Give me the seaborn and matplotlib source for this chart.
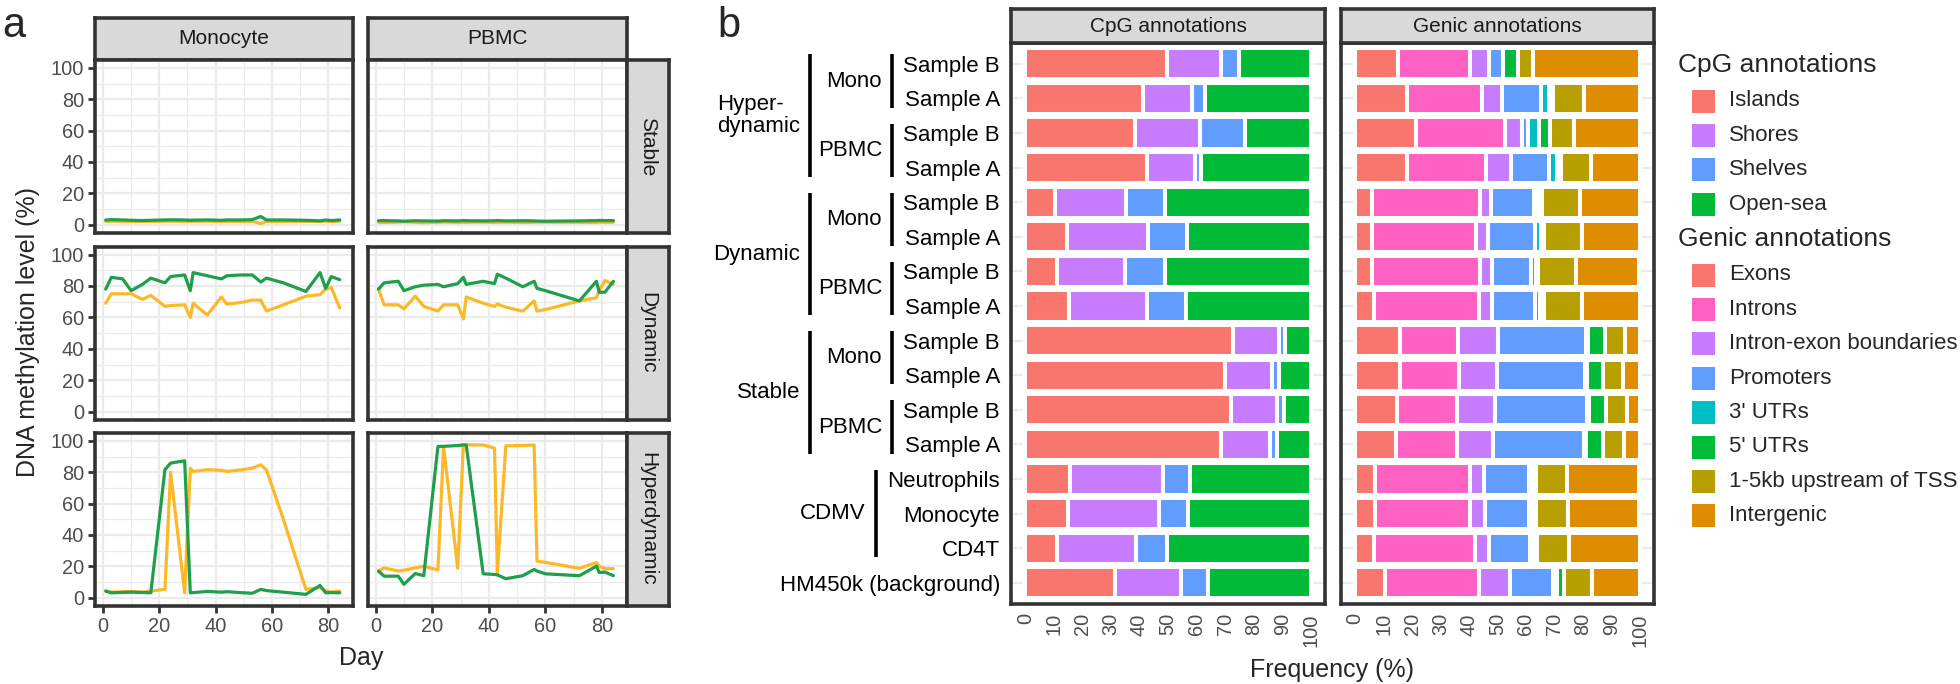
"""Methylation trajectories over time (a) and annotation composition of CpG sets (b)."""

from itertools import groupby

import matplotlib

matplotlib.use("Agg")
import matplotlib.pyplot as plt
import matplotlib.transforms as mtransforms
import pandas as pd
import seaborn as sns
from matplotlib.patches import Rectangle

W, H, DPI = 1960, 684, 100

# ---------------------------------------------------------------- panel a data
MONO_DAYS = [1, 3, 7, 10, 14, 17, 22, 24, 29, 31, 32, 37, 42, 44, 49, 53, 56, 58, 64, 72, 77, 79, 81, 84]
PBMC_DAYS = [1, 3, 8, 10, 14, 17, 22, 24, 29, 31, 32, 38, 42, 43, 46, 52, 56, 57, 60, 72, 78, 79, 81, 84]

MONO_STABLE_A = [3.0, 3.2, 3.0, 2.8, 2.6, 2.8, 3.0, 3.1, 3.0, 2.8, 2.9, 3.0, 2.8, 3.0, 3.0, 3.2, 5.2, 3.0, 3.0, 2.8, 2.4, 3.0, 2.6, 3.0]
MONO_STABLE_B = [2.0, 2.2, 2.0, 2.0, 2.1, 2.0, 2.2, 2.2, 2.0, 2.0, 2.1, 2.2, 2.0, 2.1, 2.0, 2.0, 0.8, 2.0, 2.0, 2.1, 2.0, 2.2, 2.0, 2.2]
MONO_DYNAMIC_A = [78, 85.5, 84.5, 77, 81, 85, 82, 86, 87, 77, 88.5, 86.5, 84.5, 86.5, 87, 87, 82.5, 85, 82, 76.5, 88.5, 78.5, 86, 84]
MONO_DYNAMIC_B = [69, 75, 75, 75, 71.5, 74, 67, 67.5, 68, 60, 69, 61.5, 73, 68.5, 69.5, 71, 71, 64, 68, 73.5, 74.5, 78, 79, 66]
MONO_HYPER_A = [4.2, 3.1, 3.3, 3.5, 3.3, 3.1, 81.6, 85.8, 87.3, 3.1, 3.2, 4.0, 3.5, 3.8, 3.2, 2.8, 5.3, 4.5, 3.5, 2.1, 7.8, 3.1, 3.2, 3.1]
MONO_HYPER_B = [4.2, 3.5, 3.8, 4.0, 3.5, 4.2, 5.3, 79.9, 3.1, 82.6, 80.5, 81.6, 81.2, 80.5, 81.5, 82.6, 84.7, 81.5, 50.0, 5.3, 6.4, 4.5, 3.5, 4.2]

PBMC_STABLE_A = [2.5, 2.6, 2.4, 2.2, 2.5, 2.4, 2.3, 2.5, 2.4, 2.6, 2.5, 2.4, 2.5, 2.6, 2.4, 2.5, 2.4, 2.3, 2.2, 2.4, 2.6, 2.7, 2.6, 2.6]
PBMC_STABLE_B = [1.5, 1.4, 1.6, 1.8, 1.5, 1.3, 1.5, 1.6, 1.4, 1.5, 1.5, 1.6, 1.4, 1.5, 1.6, 1.4, 1.5, 1.6, 1.5, 1.5, 1.4, 1.6, 1.5, 1.5]
PBMC_DYNAMIC_A = [78, 82, 83, 77, 79.5, 80.5, 81, 79.5, 81.5, 85.5, 81, 83, 81.5, 87.5, 85, 79.5, 83, 78.5, 77, 70.5, 83, 76, 76, 83]
PBMC_DYNAMIC_B = [78, 68, 68, 65.5, 73.5, 67, 64, 68, 68, 59, 73, 69, 67, 68.5, 66.5, 64, 70.5, 64, 65, 70.5, 72.5, 77, 83.5, 81]
PBMC_HYPER_A = [16.9, 13.7, 13.7, 8.5, 15.4, 14, 96.4, 96.5, 97, 97.4, 97.4, 15.2, 14.8, 14.5, 12.1, 14, 18, 17, 15.2, 14, 20.1, 16, 16.3, 14]
PBMC_HYPER_B = [17, 19, 17, 17.5, 19, 20, 17.7, 96.4, 18.7, 97.4, 97.4, 97.4, 95.4, 15.9, 96.8, 97, 97.4, 23.3, 22.5, 18.7, 22.4, 20, 18.5, 18.5]

CELLS = ["Monocyte", "PBMC"]
CLASSES = ["Stable", "Dynamic", "Hyperdynamic"]
SAMPLE_COLORS = {"Sample A": "#1F9E4B", "Sample B": "#FDB827"}

# ---------------------------------------------------------------- panel b data
ROW_LABELS = ["Sample B", "Sample A"] * 6 + ["Neutrophils", "Monocyte", "CD4T", "HM450k (background)"]
ROW_CLASS = ["Hyper-\ndynamic"] * 4 + ["Dynamic"] * 4 + ["Stable"] * 4 + ["CDMV"] * 3 + [None]
ROW_CELL = ["Mono", "Mono", "PBMC", "PBMC"] * 3 + [None] * 4

CPG_LEVELS = ["Islands", "Shores", "Shelves", "Open-sea"]
CPG_COLORS = ["#F8766D", "#C77CFF", "#619CFF", "#00BA38"]
CPG_ISLANDS = [49.8, 41.1, 38.3, 42.5, 10.5, 14.6, 11.1, 15.3, 72.8, 70.0, 72.1, 68.6, 15.7, 15.0, 11.1, 31.4]
CPG_SHORES = [18.8, 17.4, 23.0, 17.1, 24.7, 28.3, 23.7, 27.2, 16.0, 16.4, 16.1, 17.1, 32.7, 32.0, 27.6, 23.3]
CPG_SHELVES = [6.3, 4.6, 15.7, 2.1, 13.9, 13.9, 14.3, 13.9, 2.1, 2.4, 2.4, 2.5, 9.4, 10.1, 11.1, 9.4]
CPG_OPENSEA = [25.1, 36.9, 23.0, 38.3, 50.9, 43.2, 50.9, 43.6, 9.1, 11.2, 9.4, 11.8, 42.2, 42.9, 50.2, 35.9]

GENIC_LEVELS = ["Exons", "Introns", "Intron-exon boundaries", "Promoters", "3' UTRs", "5' UTRs",
                "1-5kb upstream of TSS", "Intergenic"]
GENIC_COLORS = ["#F8766D", "#FF61C3", "#C77CFF", "#619CFF", "#00BFC4", "#00BA38", "#B79F00", "#DE8C00"]
EXONS = [15.1, 18.2, 21.3, 18.2, 6.0, 6.0, 6.0, 6.5, 15.8, 15.8, 14.7, 14.4, 7.1, 7.1, 6.5, 10.6]
INTRONS = [25.4, 26.5, 31.4, 27.9, 38.0, 36.6, 38.0, 37.1, 20.2, 20.5, 20.9, 21.2, 33.4, 33.4, 35.7, 33.0]
INTRON_EXON = [6.6, 6.9, 5.9, 8.7, 3.8, 4.2, 4.1, 4.5, 14.2, 13.6, 13.6, 12.9, 4.9, 5.2, 4.9, 10.7]
PROMOTERS = [4.9, 13.6, 2.1, 13.2, 15.0, 16.3, 13.6, 15.0, 31.0, 31.0, 32.4, 32.0, 15.6, 15.3, 14.3, 15.1]
UTR3 = [0.0, 2.8, 3.8, 2.8, 1.4, 2.1, 1.7, 1.7, 0.7, 0.7, 0.7, 0.7, 1.2, 1.2, 1.2, 1.4]
UTR5 = [5.2, 1.4, 3.8, 1.4, 1.4, 1.1, 1.0, 1.4, 5.9, 5.5, 5.9, 5.9, 1.2, 1.2, 1.2, 2.4]
UPSTREAM = [5.2, 11.1, 8.7, 10.8, 13.3, 13.5, 13.2, 13.6, 7.0, 7.0, 7.3, 7.3, 11.1, 11.4, 11.5, 10.1]
INTERGENIC = [37.6, 19.5, 23.0, 17.0, 21.2, 20.2, 22.3, 20.2, 5.2, 5.9, 4.5, 5.6, 25.4, 25.1, 24.7, 16.7]

BORDER = "#333333"
GRID = "#EBEBEB"
STRIP_FILL = "#D9D9D9"
TICK_TEXT = "#4D4D4D"

sns.set_theme(style="white")
plt.rcParams["font.family"] = ["Liberation Sans", "DejaVu Sans"]

fig = plt.figure(figsize=(W / DPI, H / DPI), dpi=DPI)
# pixel coordinates measured from the top-left corner
PX = mtransforms.Affine2D().scale(1 / W, -1 / H).translate(0, 1) + fig.transFigure


def add_box(x0, y0, x1, y1):
    ax = fig.add_axes([x0 / W, 1 - y1 / H, (x1 - x0) / W, (y1 - y0) / H])
    for spine in ax.spines.values():
        spine.set_color(BORDER)
        spine.set_linewidth(2.6)
    return ax


def add_strip(x0, y0, x1, y1, label, rotation=0):
    ax = add_box(x0, y0, x1, y1)
    ax.set_facecolor(STRIP_FILL)
    ax.set_xticks([])
    ax.set_yticks([])
    ax.text(0.5, 0.5, label, transform=ax.transAxes, ha="center", va="center",
            rotation=rotation, fontsize=15, color="#1A1A1A")
    return ax


# ---------------------------------------------------------------- panel a
traces = [
    ("Monocyte", "Stable", MONO_DAYS, MONO_STABLE_A, MONO_STABLE_B),
    ("Monocyte", "Dynamic", MONO_DAYS, MONO_DYNAMIC_A, MONO_DYNAMIC_B),
    ("Monocyte", "Hyperdynamic", MONO_DAYS, MONO_HYPER_A, MONO_HYPER_B),
    ("PBMC", "Stable", PBMC_DAYS, PBMC_STABLE_A, PBMC_STABLE_B),
    ("PBMC", "Dynamic", PBMC_DAYS, PBMC_DYNAMIC_A, PBMC_DYNAMIC_B),
    ("PBMC", "Hyperdynamic", PBMC_DAYS, PBMC_HYPER_A, PBMC_HYPER_B),
]
frames = []
for cell, klass, days, a_vals, b_vals in traces:
    for sample, vals in (("Sample A", a_vals), ("Sample B", b_vals)):
        frames.append(pd.DataFrame({"cell": cell, "class": klass, "sample": sample,
                                    "Day": days, "level": vals}))
lines = pd.concat(frames, ignore_index=True)

col_x = {"Monocyte": (95, 353), "PBMC": (367.7, 626.7)}
row_y = {"Stable": (60, 232.5), "Dynamic": (246.7, 419.5), "Hyperdynamic": (433, 605.5)}

for cell in CELLS:
    x0, x1 = col_x[cell]
    add_strip(x0, 17.5, x1, 60, cell)
    for klass in CLASSES:
        y0, y1 = row_y[klass]
        ax = add_box(x0, y0, x1, y1)
        sub = lines[(lines["cell"] == cell) & (lines["class"] == klass)]
        sns.lineplot(data=sub, x="Day", y="level", hue="sample", hue_order=["Sample B", "Sample A"],
                     palette=SAMPLE_COLORS, estimator=None, linewidth=2.3, legend=False, ax=ax)
        ax.set_xlim(-2.8, 88.7)
        ax.set_ylim(-5, 105)
        ax.set_xticks([0, 20, 40, 60, 80])
        ax.set_xticks([10, 30, 50, 70], minor=True)
        ax.set_yticks([0, 20, 40, 60, 80, 100])
        ax.set_yticks([10, 30, 50, 70, 90], minor=True)
        ax.grid(which="major", color=GRID, linewidth=1.6)
        ax.grid(which="minor", color=GRID, linewidth=0.9)
        ax.set_axisbelow(True)
        ax.set_xlabel("")
        ax.set_ylabel("")
        ax.tick_params(which="major", length=5, width=2, color=BORDER, labelcolor=TICK_TEXT,
                       labelsize=14.4, pad=3)
        ax.tick_params(which="minor", length=0)
        ax.tick_params(left=(cell == "Monocyte"), labelleft=(cell == "Monocyte"),
                       bottom=(klass == "Hyperdynamic"), labelbottom=(klass == "Hyperdynamic"))

for klass in CLASSES:
    y0, y1 = row_y[klass]
    add_strip(626.7, y0, 668.5, y1, klass, rotation=-90)

fig.text(28, 332, "DNA methylation level (%)", transform=PX, rotation=90,
         ha="center", va="center", fontsize=18)
fig.text(361, 658, "Day", transform=PX, ha="center", va="center", fontsize=18)
fig.text(2, 37, "a", transform=PX, ha="left", va="baseline", fontsize=30)

# ---------------------------------------------------------------- panel b
cpg = pd.DataFrame(dict(zip(CPG_LEVELS, [CPG_ISLANDS, CPG_SHORES, CPG_SHELVES, CPG_OPENSEA])))
genic = pd.DataFrame(dict(zip(GENIC_LEVELS, [EXONS, INTRONS, INTRON_EXON, PROMOTERS,
                                             UTR3, UTR5, UPSTREAM, INTERGENIC])))

ax_cpg = add_box(1011, 43, 1325, 603.5)
ax_gen = add_box(1341, 43, 1654, 603.5)
add_strip(1011, 9, 1325, 43, "CpG annotations")
add_strip(1341, 9, 1654, 43, "Genic annotations")

for ax, table, colors in ((ax_cpg, cpg, CPG_COLORS), (ax_gen, genic, GENIC_COLORS)):
    table.plot.barh(stacked=True, width=0.9, color=colors, edgecolor="white",
                    linewidth=2.9, legend=False, ax=ax)
    ax.set_xlim(-5, 105)
    ax.set_ylim(len(ROW_LABELS) - 0.4, -0.6)
    ax.set_xticks(range(0, 101, 10))
    ax.set_yticks(range(len(ROW_LABELS)))
    ax.yaxis.grid(True, color=GRID, linewidth=1.6)
    ax.xaxis.grid(False)
    ax.set_axisbelow(True)
    ax.set_xlabel("")
    ax.set_ylabel("")
    ax.tick_params(axis="x", length=5, width=2, color=BORDER, labelcolor=TICK_TEXT,
                   labelsize=14.4, pad=2, labelrotation=90)
    for label in ax.get_xticklabels():
        label.set_verticalalignment("top")

ax_cpg.set_yticklabels(ROW_LABELS)
ax_cpg.tick_params(axis="y", length=5, width=2, color=BORDER, labelcolor="black",
                   labelsize=16, pad=3)
ax_gen.tick_params(axis="y", left=False, labelleft=False)

# nested row groups drawn as labelled brackets
lab_tr = mtransforms.blended_transform_factory(fig.transFigure, ax_cpg.transData)


def runs(values):
    start, out = 0, []
    for key, grp in groupby(values):
        n = len(list(grp))
        if key is not None:
            out.append((key, start, start + n - 1))
        start += n
    return out


def bracket(x_line, x_text, name, first, last):
    ax_cpg.plot([x_line / W, x_line / W], [first - 0.27, last + 0.27], transform=lab_tr,
                color="black", linewidth=2.6, solid_capstyle="butt", clip_on=False)
    ax_cpg.text(x_text / W, (first + last) / 2, name, transform=lab_tr, ha="right",
                va="center", multialignment="left", fontsize=16, color="black",
                linespacing=1.1)


has_cells = {klass for klass, cell in zip(ROW_CLASS, ROW_CELL) if cell is not None}
for name, first, last in runs(ROW_CELL):
    bracket(892, 882, name, first, last)
for name, first, last in runs(ROW_CLASS):
    if name in has_cells:
        bracket(810, 800, name, first, last)
    else:
        bracket(876, 865, name, first, last)

fig.text(1332, 670, "Frequency (%)", transform=PX, ha="center", va="center", fontsize=18)
fig.text(717, 37, "b", transform=PX, ha="left", va="baseline", fontsize=30)

# legends
legend_blocks = [("CpG annotations", CPG_LEVELS, CPG_COLORS, 65),
                 ("Genic annotations", GENIC_LEVELS, GENIC_COLORS, 239)]
for title, levels, colors, title_y in legend_blocks:
    fig.text(1678, title_y, title, transform=PX, ha="left", va="center", fontsize=19)
    for i, (level, color) in enumerate(zip(levels, colors)):
        y = title_y + 36 + 34.4 * i
        fig.add_artist(Rectangle((1692, y - 11.5), 23, 23, transform=PX,
                                 facecolor=color, edgecolor="none"))
        fig.text(1729, y, level, transform=PX, ha="left", va="center", fontsize=16)

fig.savefig("out.png", dpi=DPI)
